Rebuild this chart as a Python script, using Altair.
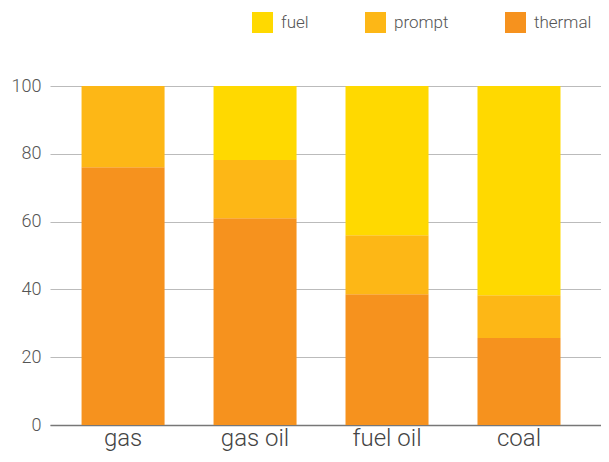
import altair as alt
import pandas as pd

categories = ["gas", "gas oil", "fuel oil", "coal"]
components = ["fuel", "prompt", "thermal"]
thermal = [76, 61, 38.6, 25.7]
prompt = [24, 17.2, 17.4, 12.6]
fuel = [0, 21.8, 44, 61.7]
colors = ["#FFD900", "#FDB716", "#F6921E"]

rows = []
for i, c in enumerate(categories):
    rows.append({"cat": c, "comp": "thermal", "val": thermal[i], "ord": 0})
    rows.append({"cat": c, "comp": "prompt", "val": prompt[i], "ord": 1})
    rows.append({"cat": c, "comp": "fuel", "val": fuel[i], "ord": 2})
df = pd.DataFrame(rows)

FONT = "Roboto"

chart = alt.Chart(df).mark_bar().encode(
    x=alt.X("cat:N", sort=categories, title=None,
            scale=alt.Scale(paddingInner=0.371, paddingOuter=0.273, align=0.438),
            axis=alt.Axis(labelAngle=0, labelFontSize=24, labelColor="#444",
                          labelFont=FONT, labelFontWeight=300, ticks=False,
                          labelPadding=1, domainColor="#777", domainWidth=1.5,
                          grid=False)),
    y=alt.Y("val:Q", stack="zero", title=None,
            scale=alt.Scale(domain=[0, 100], nice=False),
            axis=alt.Axis(values=[0, 20, 40, 60, 80, 100], labelFontSize=18,
                          labelColor="#555", labelFont=FONT, labelFontWeight=300,
                          ticks=False, domain=False, labelPadding=9,
                          gridColor="#bbb", gridWidth=1)),
    color=alt.Color("comp:N", title=None,
                    scale=alt.Scale(domain=components, range=colors),
                    legend=alt.Legend(orient="none", direction="horizontal",
                                      legendX=202, legendY=-74,
                                      symbolType="square", symbolSize=441,
                                      symbolStrokeWidth=0, symbolOpacity=1,
                                      labelFontSize=17, labelColor="#555",
                                      labelFont=FONT, labelFontWeight=300,
                                      columnPadding=56, labelOffset=8)),
    order=alt.Order("ord:Q", sort="ascending"),
).properties(
    width=551, height=339,
    autosize=alt.AutoSizeParams(type="none"),
    padding={"left": 42, "top": 78, "right": 0, "bottom": 29},
).configure_view(stroke=None).configure_axis(gridDash=[])

chart.save("out.html", embed_options={"renderer": "svg", "actions": False})
